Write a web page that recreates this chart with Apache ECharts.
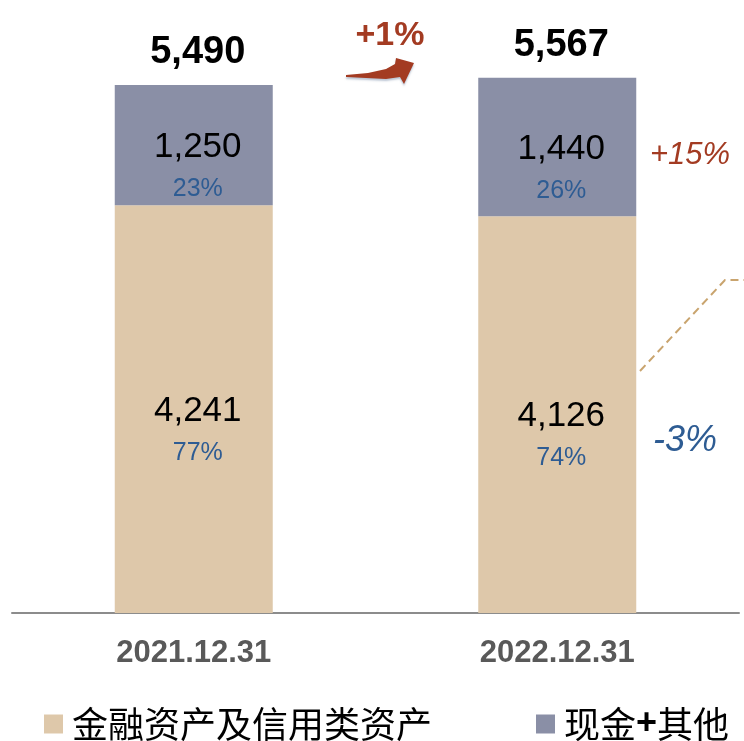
<!DOCTYPE html>
<html>
<head>
<meta charset="utf-8">
<script src="https://cdn.jsdelivr.net/npm/echarts@6/dist/echarts.min.js"></script>
<style>
  html, body { margin: 0; padding: 0; background: #fff; }
  #main { width: 744px; height: 741px; }
</style>
</head>
<body>
<div id="main"></div>
<script type="text/javascript">
// 数据
var categories = ['2021.12.31', '2022.12.31'];
var finAssets = [4241, 4126];      // 金融资产及信用类资产
var cashOther = [1250, 1440];      // 现金+其他
var finPct = [77, 74];
var cashPct = [23, 26];
var totals = [5490, 5567];

var chart = echarts.init(document.getElementById('main'));

var numFont = '"Liberation Sans", Arial, sans-serif';
var cjkFont = '"Noto Sans CJK SC", sans-serif';

function fmt(v) {
    return v.toLocaleString('en-US');
}

// 柱内标签：数值 + 占比
function segLabel(pcts) {
    return {
        show: true,
        position: 'inside',
        offset: [4, 23],
        formatter: function (p) {
            return '{n|' + fmt(p.value) + '}\n{p|' + pcts[p.dataIndex] + '%}';
        },
        rich: {
            n: { fontFamily: numFont, fontSize: 35, color: '#000', lineHeight: 42 },
            p: { fontFamily: numFont, fontSize: 25, color: '#2E5C93', lineHeight: 42 }
        }
    };
}

var option = {
    animation: false,
    backgroundColor: '#fff',
    grid: { left: 12, right: 5, top: 36, bottom: 128 },
    legend: {
        data: ['金融资产及信用类资产', '现金+其他'],
        left: 44,
        top: 706,
        padding: 0,
        itemWidth: 19,
        itemHeight: 19,
        itemGap: 104,
        icon: 'rect',
        formatter: function (name) {
            if (name === '现金+其他') return '{a|现金}{b|+}{a|其他}';
            return '{a|' + name + '}';
        },
        textStyle: {
            padding: [0, 0, 0, 4],
            rich: {
                a: { fontFamily: cjkFont, fontSize: 36, color: '#000', lineHeight: 38 },
                b: { fontFamily: numFont, fontSize: 36, fontWeight: 'bold', color: '#000', lineHeight: 38 }
            }
        }
    },
    xAxis: {
        type: 'category',
        data: categories,
        axisTick: { show: false },
        axisLine: { lineStyle: { color: '#8C8C8C', width: 2 } },
        axisLabel: {
            margin: 24,
            fontFamily: numFont,
            fontSize: 31,
            fontWeight: 'bold',
            color: '#595959',
            lineHeight: 32
        }
    },
    yAxis: {
        type: 'value',
        min: 0,
        max: 6000,
        show: false,
        splitLine: { show: false }
    },
    series: [
        {
            name: '金融资产及信用类资产',
            type: 'bar',
            stack: 'total',
            barWidth: 158,
            itemStyle: { color: '#DEC8AA' },
            label: segLabel(finPct),
            data: finAssets
        },
        {
            name: '现金+其他',
            type: 'bar',
            stack: 'total',
            barWidth: 158,
            itemStyle: { color: '#8A8FA6' },
            label: segLabel(cashPct),
            data: cashOther
        },
        {
            name: '合计',
            type: 'scatter',
            symbolSize: 1,
            itemStyle: { color: 'rgba(0,0,0,0)', opacity: 1 },
            label: {
                show: true,
                position: 'top',
                distance: 12,
                offset: [4, 0],
                formatter: function (p) { return fmt(p.value); },
                fontFamily: numFont,
                fontSize: 38,
                fontWeight: 'bold',
                color: '#000',
                lineHeight: 40
            },
            data: totals
        }
    ],
    graphic: [
        {
            type: 'text',
            x: 390, y: 36,
            style: {
                text: '+1%',
                font: 'bold 34px ' + numFont,
                fill: '#A33B22',
                textAlign: 'center',
                textVerticalAlign: 'middle'
            }
        },
        {
            // 弯箭头
            type: 'polygon',
            shape: {
                points: [[346, 75], [368, 73], [386, 69], [395, 64], [396, 58],
                         [414, 63], [404, 84], [400, 77], [386, 79], [366, 78], [346, 77]]
            },
            style: { fill: '#A33B22', shadowBlur: 2, shadowOffsetY: 2, shadowColor: 'rgba(120,140,170,0.5)' }
        },
        {
            type: 'text',
            x: 690, y: 155,
            style: {
                text: '+15%',
                font: 'italic 31px ' + numFont,
                fill: '#A33B22',
                textAlign: 'center',
                textVerticalAlign: 'middle'
            }
        },
        {
            type: 'text',
            x: 685, y: 441,
            style: {
                text: '-3%',
                font: 'italic 36px ' + numFont,
                fill: '#2E5C93',
                textAlign: 'center',
                textVerticalAlign: 'middle'
            }
        },
        {
            type: 'polyline',
            shape: { points: [[640, 371], [725, 280], [744, 280]] },
            style: { stroke: '#C9A46E', lineWidth: 2, lineDash: [8, 5], fill: null }
        }
    ]
};

chart.setOption(option);
</script>
</body>
</html>
